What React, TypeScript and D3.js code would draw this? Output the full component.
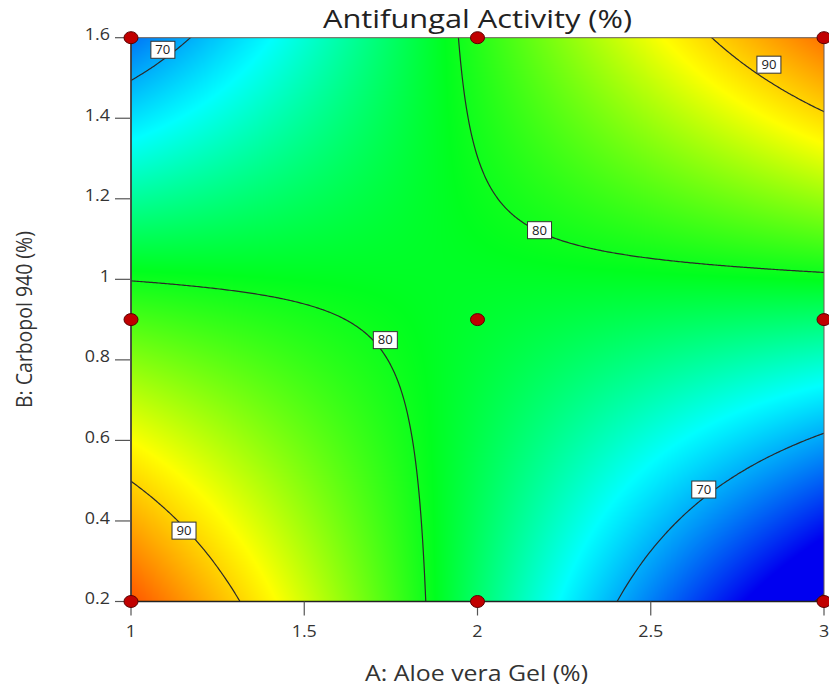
import React, { useEffect, useRef } from 'react';
import * as d3 from 'd3';

// design points: A = Aloe vera gel (%), B = Carbopol 940 (%), response = antifungal activity (%)
const aloeVera = [1, 1, 1, 2, 2, 2, 3, 3, 3];
const carbopol = [0.2, 0.9, 1.6, 0.2, 0.9, 1.6, 0.2, 0.9, 1.6];
const activity = [96.0, 81.9, 67.9, 77.3, 79.0, 80.7, 59.5, 77.1, 94.6];

const xTicks = [1, 1.5, 2, 2.5, 3];
const yTicks = [0.2, 0.4, 0.6, 0.8, 1, 1.2, 1.4, 1.6];
const contourLevels = [60, 70, 80, 90];

// contour value boxes (level + spot in A/B units)
const labelLevels = [70, 90, 80, 80, 70, 90];
const labelA = [1.092, 2.841, 2.179, 1.734, 2.653, 1.153];
const labelB = [1.570, 1.533, 1.122, 0.849, 0.478, 0.376];

const colorValues = [63.5, 73, 79.5, 88, 100];
const colorRange = ['#0000f0', '#00ffff', '#00ff1e', '#ffff00', '#ff0000'];

const width = 829;
const height = 687;
const plotLeft = 131;
const plotRight = 824;
const plotTop = 37.7;
const plotBottom = 601.5;
const font = "'Open Sans', 'Noto Sans', sans-serif";

// full quadratic model in coded units, least squares on the design points
function fitModel() {
    const rows = aloeVera.map((a, i) => {
        const x = a - 2;
        const y = (carbopol[i] - 0.9) / 0.7;
        return [1, x, y, x * y, x * x, y * y];
    });
    const n = 6;
    const M = d3.range(n).map(r => d3.range(n + 1).map(c =>
        c < n ? d3.sum(rows, row => row[r] * row[c]) : d3.sum(rows, (row, i) => row[r] * activity[i])));
    for (let c = 0; c < n; c++) {
        let p = c;
        for (let r = c + 1; r < n; r++) if (Math.abs(M[r][c]) > Math.abs(M[p][c])) p = r;
        const tmp = M[c]; M[c] = M[p]; M[p] = tmp;
        for (let r = 0; r < n; r++) {
            if (r === c) continue;
            const f = M[r][c] / M[c][c];
            for (let k = c; k <= n; k++) M[r][k] -= f * M[c][k];
        }
    }
    const coef = M.map((row, i) => row[n] / row[i]);
    return (a: number, b: number) => {
        const x = a - 2;
        const y = (b - 0.9) / 0.7;
        return coef[0] + coef[1] * x + coef[2] * y + coef[3] * x * y + coef[4] * x * x + coef[5] * y * y;
    };
}

function ContourChart() {
    const ref = useRef<SVGSVGElement>(null);

    useEffect(() => {
        const predict = fitModel();
        const x = d3.scaleLinear().domain([1, 3]).range([plotLeft, plotRight]);
        const y = d3.scaleLinear().domain([0.2, 1.6]).range([plotBottom, plotTop]);
        const color = d3.scaleLinear<string>().domain(colorValues).range(colorRange).clamp(true);

        const svg = d3.select(ref.current);
        svg.selectAll('*').remove();

        // colour map drawn into a canvas, one pixel at a time
        const W = Math.round(plotRight - plotLeft);
        const H = Math.round(plotBottom - plotTop);
        const canvas = document.createElement('canvas');
        canvas.width = W;
        canvas.height = H;
        const ctx = canvas.getContext('2d')!;
        const img = ctx.createImageData(W, H);
        for (let py = 0; py < H; py++) {
            const b = y.invert(plotTop + py + 0.5);
            for (let px = 0; px < W; px++) {
                const a = x.invert(plotLeft + px + 0.5);
                const c = d3.rgb(color(predict(a, b)));
                const k = (py * W + px) * 4;
                img.data[k] = c.r;
                img.data[k + 1] = c.g;
                img.data[k + 2] = c.b;
                img.data[k + 3] = 255;
            }
        }
        ctx.putImageData(img, 0, 0);

        svg.append('image')
            .attr('x', plotLeft)
            .attr('y', plotTop)
            .attr('width', plotRight - plotLeft)
            .attr('height', plotBottom - plotTop)
            .attr('preserveAspectRatio', 'none')
            .attr('href', canvas.toDataURL());

        svg.append('clipPath')
            .attr('id', 'plotClip')
            .append('rect')
            .attr('x', plotLeft)
            .attr('y', plotTop)
            .attr('width', plotRight - plotLeft)
            .attr('height', plotBottom - plotTop);

        // contour lines: grid padded past the frame so the ring edges fall outside the clip
        const step = 0.005;
        const a0 = 0.9, b0 = 0.1;
        const nx = Math.round((3.1 - a0) / step) + 1;
        const ny = Math.round((1.7 - b0) / step) + 1;
        const values = new Array(nx * ny);
        for (let j = 0; j < ny; j++) {
            for (let i = 0; i < nx; i++) values[j * nx + i] = predict(a0 + i * step, b0 + j * step);
        }
        const contours = d3.contours().size([nx, ny]).thresholds(contourLevels)(values);
        const line = d3.line<number[]>()
            .x(p => x(a0 + (p[0] - 0.5) * step))
            .y(p => y(b0 + (p[1] - 0.5) * step));

        const cg = svg.append('g').attr('clip-path', 'url(#plotClip)');
        contours.forEach(c => {
            c.coordinates.forEach(poly => poly.forEach(ring => {
                cg.append('path')
                    .attr('d', line(ring as number[][]) + 'Z')
                    .attr('fill', 'none')
                    .attr('stroke', '#2a2a2a')
                    .attr('stroke-width', 1.2);
            }));
        });

        // frame
        svg.append('rect')
            .attr('x', plotLeft)
            .attr('y', plotTop)
            .attr('width', plotRight - plotLeft)
            .attr('height', plotBottom - plotTop)
            .attr('fill', 'none')
            .attr('stroke', '#6b5d55')
            .attr('stroke-width', 1);
        svg.append('line')
            .attr('x1', plotLeft).attr('x2', plotLeft)
            .attr('y1', plotTop).attr('y2', plotBottom)
            .attr('stroke', '#333').attr('stroke-width', 1.5);
        svg.append('line')
            .attr('x1', plotLeft).attr('x2', plotRight)
            .attr('y1', plotBottom).attr('y2', plotBottom)
            .attr('stroke', '#222').attr('stroke-width', 1.5);

        // axes
        const fmt = (d: number) => String(d);
        const xAxis = svg.append('g');
        xAxis.selectAll('line').data(xTicks).join('line')
            .attr('x1', d => x(d)).attr('x2', d => x(d))
            .attr('y1', plotBottom).attr('y2', plotBottom + 14)
            .attr('stroke', '#555').attr('stroke-width', 1.2);
        xAxis.selectAll('text').data(xTicks).join('text')
            .attr('x', d => x(d))
            .attr('y', plotBottom + 36)
            .attr('text-anchor', 'middle')
            .attr('font-family', font)
            .attr('font-size', 16)
            .attr('fill', '#333')
            .attr('transform', d => `translate(${x(d)},0) scale(1.12,1) translate(${-x(d)},0)`)
            .text(fmt);

        const yAxis = svg.append('g');
        yAxis.selectAll('line').data(yTicks).join('line')
            .attr('x1', plotLeft - 16).attr('x2', plotLeft)
            .attr('y1', d => y(d)).attr('y2', d => y(d))
            .attr('stroke', '#555').attr('stroke-width', 1.2);
        yAxis.selectAll('text').data(yTicks).join('text')
            .attr('x', plotLeft - 21)
            .attr('y', d => y(d) - 3)
            .attr('dy', '0.35em')
            .attr('text-anchor', 'end')
            .attr('font-family', font)
            .attr('font-size', 16)
            .attr('fill', '#333')
            .attr('transform', `translate(${plotLeft - 21},0) scale(1.12,1) translate(${-(plotLeft - 21)},0)`)
            .text(fmt);

        // contour value boxes
        const lg = svg.append('g');
        labelLevels.forEach((lev, i) => {
            const cx = x(labelA[i]);
            const cy = y(labelB[i]);
            lg.append('rect')
                .attr('x', cx - 12).attr('y', cy - 8.5)
                .attr('width', 24).attr('height', 17)
                .attr('fill', '#fff')
                .attr('stroke', '#333').attr('stroke-width', 1);
            lg.append('text')
                .attr('x', cx).attr('y', cy)
                .attr('dy', '0.36em')
                .attr('text-anchor', 'middle')
                .attr('font-family', font)
                .attr('font-size', 12)
                .attr('fill', '#222')
                .attr('textLength', 15)
                .attr('lengthAdjust', 'spacingAndGlyphs')
                .text(lev);
        });

        // design points
        svg.append('g').selectAll('ellipse').data(activity).join('ellipse')
            .attr('cx', (d, i) => x(aloeVera[i]))
            .attr('cy', (d, i) => y(carbopol[i]))
            .attr('rx', 7)
            .attr('ry', 6)
            .attr('fill', '#c00000')
            .attr('stroke', '#5a0000')
            .attr('stroke-width', 1);

        // titles
        svg.append('text')
            .attr('x', (plotLeft + plotRight) / 2).attr('y', 28)
            .attr('text-anchor', 'middle')
            .attr('font-family', font).attr('font-size', 25)
            .attr('fill', '#222')
            .attr('textLength', 309)
            .attr('lengthAdjust', 'spacingAndGlyphs')
            .text('Antifungal Activity (%)');
        svg.append('text')
            .attr('x', 476.5).attr('y', 681)
            .attr('text-anchor', 'middle')
            .attr('font-family', font).attr('font-size', 21)
            .attr('fill', '#333')
            .attr('textLength', 223)
            .attr('lengthAdjust', 'spacingAndGlyphs')
            .text('A: Aloe vera Gel (%)');
        svg.append('text')
            .attr('transform', `translate(32,${(plotTop + plotBottom) / 2}) rotate(-90) scale(1,1.15)`)
            .attr('text-anchor', 'middle')
            .attr('font-family', font).attr('font-size', 19)
            .attr('fill', '#333')
            .attr('textLength', 177)
            .attr('lengthAdjust', 'spacingAndGlyphs')
            .text('B: Carbopol 940 (%)');
    }, []);

    return (
        <svg ref={ref} width={width} height={height}
            style={{ position: 'absolute', left: 0, top: 0, background: '#fff' }} />
    );
}

export default function App() {
    return <ContourChart />;
}
